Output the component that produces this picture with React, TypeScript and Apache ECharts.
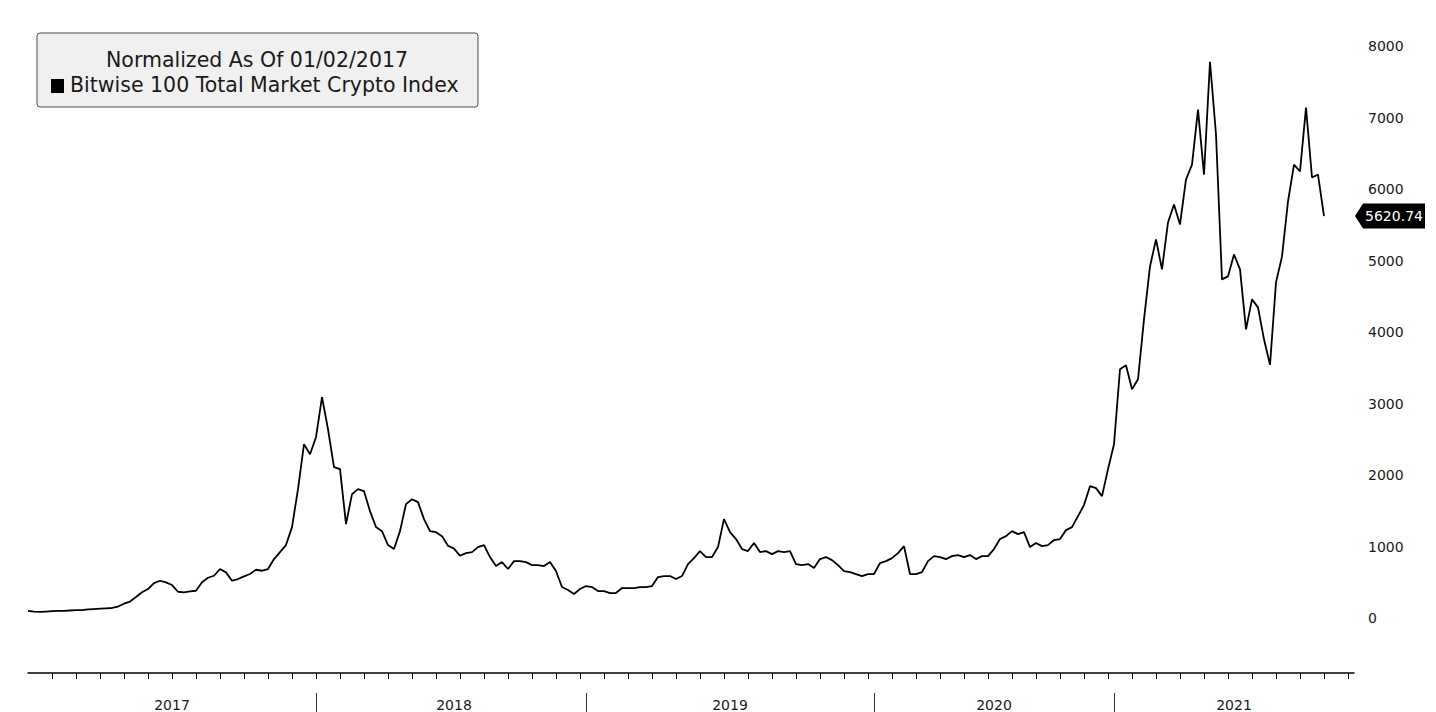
import React, { useEffect, useRef } from "react";
import * as echarts from "echarts";

// ---- data ----
const legendTitle = "Normalized As Of 01/02/2017";
const seriesName = "Bitwise 100 Total Market Crypto Index";

// index level, roughly one reading per ~6 px of the original time axis
const indexValues: number[] = [
  100, 90, 85, 90, 95, 100, 100, 105, 110, 110,
  120, 125, 130, 135, 140, 160, 200, 230, 293, 359,
  405, 489, 521, 499, 461, 367, 359, 373, 381, 499,
  563, 591, 685, 638, 521, 545, 583, 615, 675, 661,
  685, 824, 922, 1020, 1271, 1802, 2431, 2291, 2529, 3090,
  2640, 2109, 2082, 1313, 1732, 1802, 1774, 1495, 1271, 1215,
  1020, 964, 1215, 1593, 1660, 1620, 1383, 1215, 1201, 1145,
  1010, 971, 870, 908, 922, 992, 1020, 852, 726, 782,
  685, 796, 796, 782, 740, 740, 726, 782, 657, 433,
  391, 335, 405, 447, 433, 377, 377, 349, 349, 419,
  419, 419, 433, 433, 447, 573, 587, 587, 545, 587,
  754, 838, 936, 852, 852, 992, 1383, 1201, 1104, 964,
  936, 1048, 922, 936, 894, 936, 922, 936, 754, 740,
  754, 699, 824, 852, 810, 740, 657, 643, 615, 587,
  615, 615, 768, 796, 838, 908, 1006, 615, 615, 643,
  796, 866, 852, 824, 866, 880, 852, 880, 824, 866,
  866, 964, 1104, 1145, 1215, 1173, 1201, 992, 1048, 1006,
  1020, 1090, 1104, 1229, 1271, 1425, 1579, 1844, 1816, 1704,
  2082, 2431, 3479, 3534, 3199, 3339, 4177, 4917, 5295, 4875,
  5532, 5784, 5504, 6133, 6342, 7111, 6202, 7780, 6762, 4736,
  4778, 5085, 4875, 4037, 4456, 4344, 3898, 3540, 4694, 5057,
  5825, 6342, 6245, 7139, 6161, 6202, 5620.74,
];

const slotCount = 222; // slots along the time axis (data + empty tail)
const yearLabels = ["2017", "2018", "2019", "2020", "2021"];
const yearLabelSlots = [24, 71, 117, 161, 201];
const yearBoundarySlots = [48, 93, 141, 181];
const yMin = 0;
const yMax = 8000;
const yStep = 1000;

const slots = Array.from({ length: slotCount }, (_, i) => "P" + i);
const lastIndex = indexValues.length - 1;
const lastValue = indexValues[lastIndex];

const FONT = '"DejaVu Sans", Verdana, sans-serif';

export default function App() {
  const ref = useRef<HTMLDivElement>(null);

  useEffect(() => {
    if (!ref.current) return;
    const chart = echarts.init(ref.current, null, { renderer: "svg" });
    chart.setOption({
      animation: false,
      backgroundColor: "#ffffff",
      grid: {
        left: 28,
        right: 82,
        top: 46,
        bottom: 94,
        containLabel: false,
        outerBoundsMode: "none",
      },
      xAxis: [
        {
          type: "category",
          data: slots,
          boundaryGap: false,
          position: "bottom",
          offset: 55,
          axisLine: {
            show: true,
            onZero: false,
            lineStyle: { color: "#000", width: 1.5 },
          },
          axisTick: {
            show: true,
            interval: (i: number) => i > 0 && i % 4 === 0,
            length: 6,
            lineStyle: { color: "#000", width: 1 },
          },
          axisLabel: { show: false },
          splitLine: { show: false },
        },
        {
          type: "category",
          data: slots,
          boundaryGap: false,
          position: "bottom",
          offset: 75,
          axisLine: { show: false, onZero: false },
          axisTick: {
            show: true,
            interval: (i: number) => yearBoundarySlots.includes(i),
            length: 22,
            lineStyle: { color: "#333", width: 1 },
          },
          axisLabel: {
            show: true,
            interval: (i: number) => yearLabelSlots.includes(i),
            formatter: (_v: string, i: number) => {
              const k = yearLabelSlots.indexOf(i);
              return k >= 0 ? yearLabels[k] : "";
            },
            margin: 5,
            color: "#1a1a1a",
            fontSize: 14,
            fontFamily: FONT,
          },
          splitLine: { show: false },
        },
      ],
      yAxis: {
        type: "value",
        position: "right",
        min: yMin,
        max: yMax,
        interval: yStep,
        axisLine: { show: false },
        axisTick: { show: false },
        splitLine: { show: false },
        axisLabel: {
          margin: 14,
          color: "#1a1a1a",
          fontSize: 14,
          fontFamily: FONT,
          formatter: (v: number) => String(v),
        },
      },
      series: [
        {
          name: seriesName,
          type: "line",
          xAxisIndex: 0,
          data: indexValues,
          showSymbol: false,
          symbol: "none",
          lineStyle: { color: "#000", width: 1.8 },
          markPoint: {
            silent: true,
            symbol: "path://M0,12L8,0L70,0L70,24L8,24Z",
            symbolSize: [70, 25],
            symbolKeepAspect: false,
            symbolOffset: [66, 0],
            itemStyle: { color: "#000" },
            label: {
              show: true,
              position: "inside",
              offset: [4, 0],
              color: "#fff",
              fontSize: 14,
              fontFamily: FONT,
              formatter: () => lastValue.toFixed(2),
            },
            data: [{ coord: [lastIndex, lastValue], value: lastValue }],
          },
        },
      ],
      graphic: [
        {
          type: "rect",
          x: 37,
          y: 33,
          shape: { width: 441, height: 74, r: 3 },
          style: { fill: "#f0f0f0", stroke: "#4d4d4d", lineWidth: 1 },
          z: 10,
        },
        {
          type: "text",
          x: 257,
          y: 60,
          style: {
            text: legendTitle,
            font: '20.5px "DejaVu Sans"',
            fill: "#1a1a1a",
            align: "center",
            verticalAlign: "middle",
          },
          z: 11,
        },
        {
          type: "rect",
          x: 51,
          y: 79,
          shape: { width: 13, height: 14 },
          style: { fill: "#000" },
          z: 11,
        },
        {
          type: "text",
          x: 70,
          y: 85,
          style: {
            text: seriesName,
            font: '20.5px "DejaVu Sans"',
            fill: "#1a1a1a",
            align: "left",
            verticalAlign: "middle",
          },
          z: 11,
        },
      ],
    });
    return () => chart.dispose();
  }, []);

  return (
    <div
      ref={ref}
      style={{
        position: "fixed",
        left: 0,
        top: 0,
        width: 1436,
        height: 712,
        background: "#fff",
      }}
    />
  );
}
